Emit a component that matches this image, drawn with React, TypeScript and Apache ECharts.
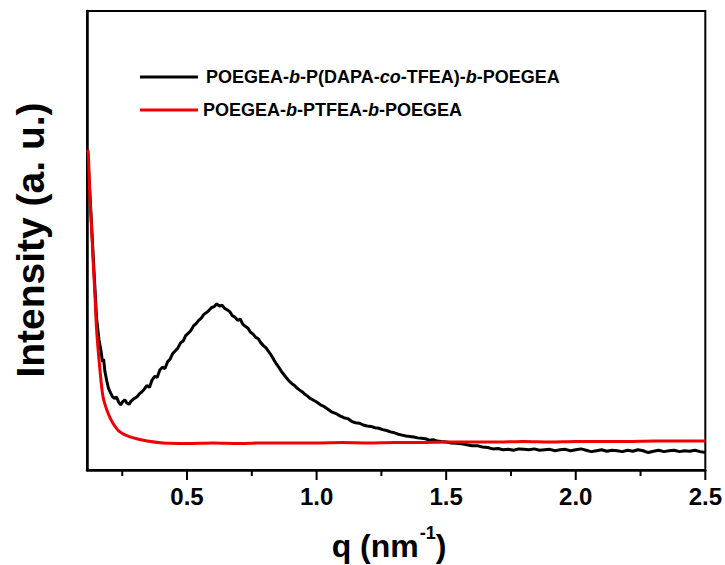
import React, { useEffect, useRef } from "react";
import * as echarts from "echarts";

const xMin = 0.114;
const xMax = 2.5;
const xMajorTicks = [0.5, 1.0, 1.5, 2.0, 2.5];
const xMinorTicks = [0.25, 0.75, 1.25, 1.75, 2.25];
const xLabelValues = [0.5, 1.0, 1.5, 2.0, 2.5];

const seriesNames = ["POEGEA-b-P(DAPA-co-TFEA)-b-POEGEA", "POEGEA-b-PTFEA-b-POEGEA"];

const blackQ = [
  0.116, 0.125, 0.138, 0.151, 0.16, 0.168, 0.174, 0.178, 0.183, 0.19, 0.197, 0.205, 0.212, 0.22, 0.228, 0.236,
  0.244, 0.252, 0.26, 0.268, 0.276, 0.284, 0.292, 0.3, 0.308, 0.316, 0.325, 0.335, 0.345, 0.355, 0.365, 0.375,
  0.385, 0.395, 0.405, 0.415, 0.425, 0.435, 0.445, 0.455, 0.465, 0.475, 0.485, 0.495, 0.505, 0.515, 0.525, 0.535,
  0.545, 0.555, 0.565, 0.575, 0.585, 0.595, 0.605, 0.615, 0.625, 0.635, 0.645, 0.655, 0.665, 0.675, 0.685, 0.695,
  0.705, 0.715, 0.725, 0.735, 0.745, 0.755, 0.765, 0.775, 0.785, 0.795, 0.805, 0.815, 0.825, 0.835, 0.845, 0.855,
  0.865, 0.875, 0.885, 0.895, 0.905, 0.915, 0.925, 0.935, 0.945, 0.955, 0.965, 0.975, 0.985, 1.0, 1.015, 1.03,
  1.045, 1.06, 1.075, 1.09, 1.105, 1.12, 1.135, 1.15, 1.165, 1.18, 1.195, 1.21, 1.225, 1.24, 1.255, 1.27,
  1.285, 1.3, 1.315, 1.33, 1.345, 1.36, 1.375, 1.39, 1.405, 1.42, 1.435, 1.45, 1.465, 1.48, 1.5, 1.52,
  1.54, 1.56, 1.58, 1.6, 1.62, 1.64, 1.66, 1.68, 1.7, 1.72, 1.74, 1.76, 1.78, 1.8, 1.82, 1.84,
  1.86, 1.88, 1.9, 1.92, 1.94, 1.96, 1.98, 2.0, 2.02, 2.04, 2.06, 2.08, 2.1, 2.12, 2.14, 2.16,
  2.18, 2.2, 2.22, 2.24, 2.26, 2.28, 2.3, 2.32, 2.34, 2.36, 2.38, 2.4, 2.42, 2.44, 2.46, 2.48, 2.5,
];
const blackV = [
  69.5, 60.5, 46.5, 33.0, 28.5, 26.0, 23.5, 24.2, 21.5, 19.5, 17.8, 16.8, 16.0, 15.6, 15.9, 14.8,
  14.2, 14.9, 15.3, 14.6, 14.3, 15.0, 15.4, 15.7, 16.0, 16.6, 17.0, 17.6, 18.4, 18.0, 19.6, 20.4,
  20.2, 21.8, 22.4, 22.1, 23.6, 24.2, 25.4, 26.0, 26.6, 27.7, 28.1, 29.3, 29.8, 30.4, 31.4, 31.9,
  32.6, 33.1, 33.9, 34.3, 34.8, 35.4, 35.6, 36.2, 35.7, 35.9, 35.2, 34.9, 34.5, 33.6, 33.3, 32.6,
  32.9, 31.8, 31.3, 30.9, 30.0, 29.6, 28.9, 28.6, 27.7, 27.1, 26.6, 25.8, 25.0, 24.0, 23.1, 22.3,
  21.4, 20.7, 20.0, 19.3, 18.8, 18.4, 17.8, 17.4, 17.0, 16.5, 16.1, 15.6, 15.3, 14.8, 14.2, 13.8,
  13.2, 12.6, 12.3, 11.8, 11.4, 11.2, 10.6, 10.3, 10.2, 9.8, 9.6, 9.5, 9.2, 9.1, 8.8, 8.6,
  8.3, 8.1, 7.8, 7.6, 7.4, 7.3, 7.2, 7.0, 6.9, 6.8, 6.5, 6.6, 6.3, 6.2, 6.1, 5.9,
  5.8, 5.7, 5.5, 5.3, 5.3, 5.0, 4.9, 4.6, 4.7, 4.4, 4.5, 4.3, 4.6, 4.5, 4.4, 4.6,
  4.3, 4.4, 4.5, 4.2, 4.4, 4.5, 4.2, 4.4, 4.6, 4.3, 4.0, 4.2, 4.4, 4.1, 4.3, 4.2,
  4.0, 4.3, 4.1, 4.4, 4.2, 3.8, 4.1, 4.3, 4.0, 4.2, 4.3, 4.0, 4.2, 4.1, 4.3, 4.0, 3.8,
];

const redQ = [
  0.116, 0.119, 0.125, 0.132, 0.138, 0.145, 0.151, 0.164, 0.176, 0.195, 0.214, 0.241, 0.28, 0.346, 0.407, 0.5,
  0.6, 0.7, 0.8, 0.9, 1.0, 1.1, 1.2, 1.3, 1.4, 1.5, 1.6, 1.7, 1.8, 1.9, 2.0, 2.1, 2.2, 2.3, 2.4, 2.5,
];
const redV = [
  69.8, 69.1, 59.5, 52.3, 45.1, 37.7, 30.5, 21.8, 15.9, 12.4, 10.2, 8.3, 7.2, 6.3, 5.9, 5.8,
  5.9, 5.8, 5.9, 5.9, 5.9, 6.0, 5.9, 6.0, 6.0, 6.1, 6.1, 6.1, 6.2, 6.1, 6.2, 6.2, 6.2, 6.3, 6.3, 6.3,
];

const FONT = "'Liberation Sans', Arial, sans-serif";
const RED = "#f00000";

export default function App() {
  const ref = useRef<HTMLDivElement>(null);
  useEffect(() => {
    if (!ref.current) return;
    const chart = echarts.init(ref.current, null, { renderer: "svg" });
    const blackData = blackQ.map((q, i) => [q, blackV[i]]);
    const redData = redQ.map((q, i) => [q, redV[i]]);
    const tickData = [
      ...xMajorTicks.map((v) => [v, 9]),
      ...xMinorTicks.map((v) => [v, 5]),
    ];
    chart.setOption({
      animation: false,
      backgroundColor: "#fff",
      grid: {
        left: 87,
        right: 19,
        top: 11,
        bottom: 95,
        show: true,
        borderColor: "#000",
        borderWidth: 2,
        backgroundColor: "transparent",
      },
      xAxis: {
        type: "value",
        min: xMin,
        max: xMax,
        splitLine: { show: false },
        axisLine: { show: true, onZero: false, lineStyle: { color: "#000", width: 2.5 } },
        axisTick: { show: false },
        axisLabel: {
          show: true,
          margin: 14,
          color: "#000",
          fontFamily: FONT,
          fontWeight: "bold",
          fontSize: 24,
          customValues: xLabelValues,
          formatter: (v: number) => v.toFixed(1),
        },
      },
      yAxis: {
        type: "value",
        min: 0,
        max: 100,
        splitLine: { show: false },
        axisLine: { show: true, lineStyle: { color: "#000", width: 2.5 } },
        axisTick: { show: false },
        axisLabel: { show: false },
      },
      series: [
        {
          name: seriesNames[0],
          type: "line",
          data: blackData,
          showSymbol: false,
          symbol: "none",
          lineStyle: { color: "#000", width: 3 },
          z: 2,
        },
        {
          name: seriesNames[1],
          type: "line",
          data: redData,
          showSymbol: false,
          symbol: "none",
          smooth: 0.3,
          lineStyle: { color: RED, width: 3 },
          z: 3,
        },
        {
          name: "ticks",
          type: "custom",
          clip: false,
          silent: true,
          data: tickData,
          renderItem: (params: any, api: any) => {
            const p = api.coord([api.value(0), 0]);
            const len = api.value(1);
            return {
              type: "line",
              shape: { x1: p[0], y1: p[1] + 1, x2: p[0], y2: p[1] + 1 + len },
              style: { stroke: "#000", lineWidth: 2 },
            };
          },
          z: 4,
        },
      ],
      graphic: [
        {
          type: "line",
          shape: { x1: 140, y1: 77, x2: 198, y2: 77 },
          style: { stroke: "#000", lineWidth: 3 },
        },
        {
          type: "text",
          x: 206,
          y: 77,
          style: {
            text: "POEGEA-{i|b}-P(DAPA-{i|co}-TFEA)-{i|b}-POEGEA",
            fontFamily: FONT,
            fontWeight: "bold",
            fontSize: 18,
            fill: "#000",
            verticalAlign: "middle",
            rich: { i: { fontStyle: "italic", fontWeight: "bold", fontSize: 18, fontFamily: FONT, fill: "#000" } },
          },
        },
        {
          type: "line",
          shape: { x1: 140, y1: 110, x2: 198, y2: 110 },
          style: { stroke: RED, lineWidth: 3 },
        },
        {
          type: "text",
          x: 203,
          y: 110,
          style: {
            text: "POEGEA-{i|b}-PTFEA-{i|b}-POEGEA",
            fontFamily: FONT,
            fontWeight: "bold",
            fontSize: 18,
            fill: "#000",
            verticalAlign: "middle",
            rich: { i: { fontStyle: "italic", fontWeight: "bold", fontSize: 18, fontFamily: FONT, fill: "#000" } },
          },
        },
        {
          type: "text",
          x: 389,
          y: 542,
          style: {
            text: "{n|q (nm}{s|-1}{n|)}",
            fontFamily: FONT,
            fontWeight: "bold",
            fill: "#000",
            align: "center",
            verticalAlign: "middle",
            rich: {
              n: { fontSize: 32, fontWeight: "bold", fontFamily: FONT, lineHeight: 40, verticalAlign: "bottom" },
              s: { fontSize: 18, fontWeight: "bold", fontFamily: FONT, lineHeight: 40, verticalAlign: "top", padding: [2, 0, 0, 1] },
            },
          },
        },
        {
          type: "text",
          x: 30,
          y: 240,
          rotation: Math.PI / 2,
          style: {
            text: "Intensity (a. u.)",
            fontFamily: FONT,
            fontWeight: "bold",
            fontSize: 39,
            fill: "#000",
            align: "center",
            verticalAlign: "middle",
          },
        },
      ],
    });
    return () => chart.dispose();
  }, []);
  return <div ref={ref} style={{ position: "fixed", left: 0, top: 0, width: 725, height: 565 }} />;
}
